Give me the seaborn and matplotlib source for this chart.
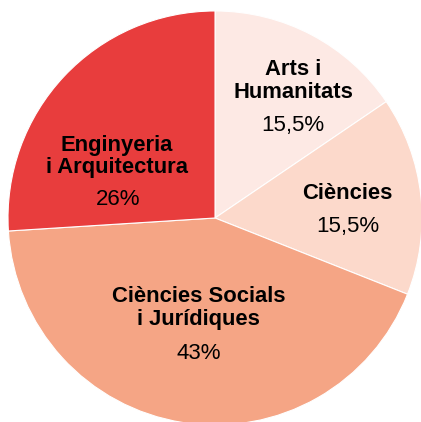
import matplotlib
matplotlib.use('Agg')
import matplotlib.pyplot as plt
import seaborn as sns

# Data
categories = ['Arts i\nHumanitats', 'Ciències', 'Ciències Socials\ni Jurídiques', 'Enginyeria\ni Arquitectura']
shares = [15.5, 15.5, 43, 26]
pct_labels = ['15,5%', '15,5%', '43%', '26%']
colors = ['#fde9e4', '#fcd9cb', '#f5a585', '#e83d3d']

sns.set_theme(style='white')
plt.rcParams['font.family'] = ['Liberation Sans', 'DejaVu Sans']

fig = plt.figure(figsize=(4.21, 4.22), dpi=100)
ax = fig.add_axes([0, 0, 1, 1])

ax.pie(shares, colors=colors, startangle=90, counterclock=False, radius=1,
       wedgeprops={'edgecolor': 'white', 'linewidth': 0.8})

# label positions (name block centre, percentage centre), in pie units
name_pos = [(0.377, 0.662), (0.64, 0.12), (-0.08, -0.435), (-0.473, 0.297)]
pct_pos = [(0.377, 0.449), (0.64, -0.04), (-0.08, -0.657), (-0.47, 0.087)]

for cat, pct, (nx, ny), (px, py) in zip(categories, pct_labels, name_pos, pct_pos):
    ax.text(nx, ny, cat, ha='center', va='center', fontsize=15.8,
            fontweight='bold', color='black', linespacing=1.1)
    ax.text(px, py, pct, ha='center', va='center', fontsize=16, color='black')

ax.set_xlim(-1.0386, 0.995)
ax.set_ylim(-0.9855, 1.053)
ax.set_aspect('equal')
ax.axis('off')

fig.savefig('out.png', dpi=100, facecolor='white')
